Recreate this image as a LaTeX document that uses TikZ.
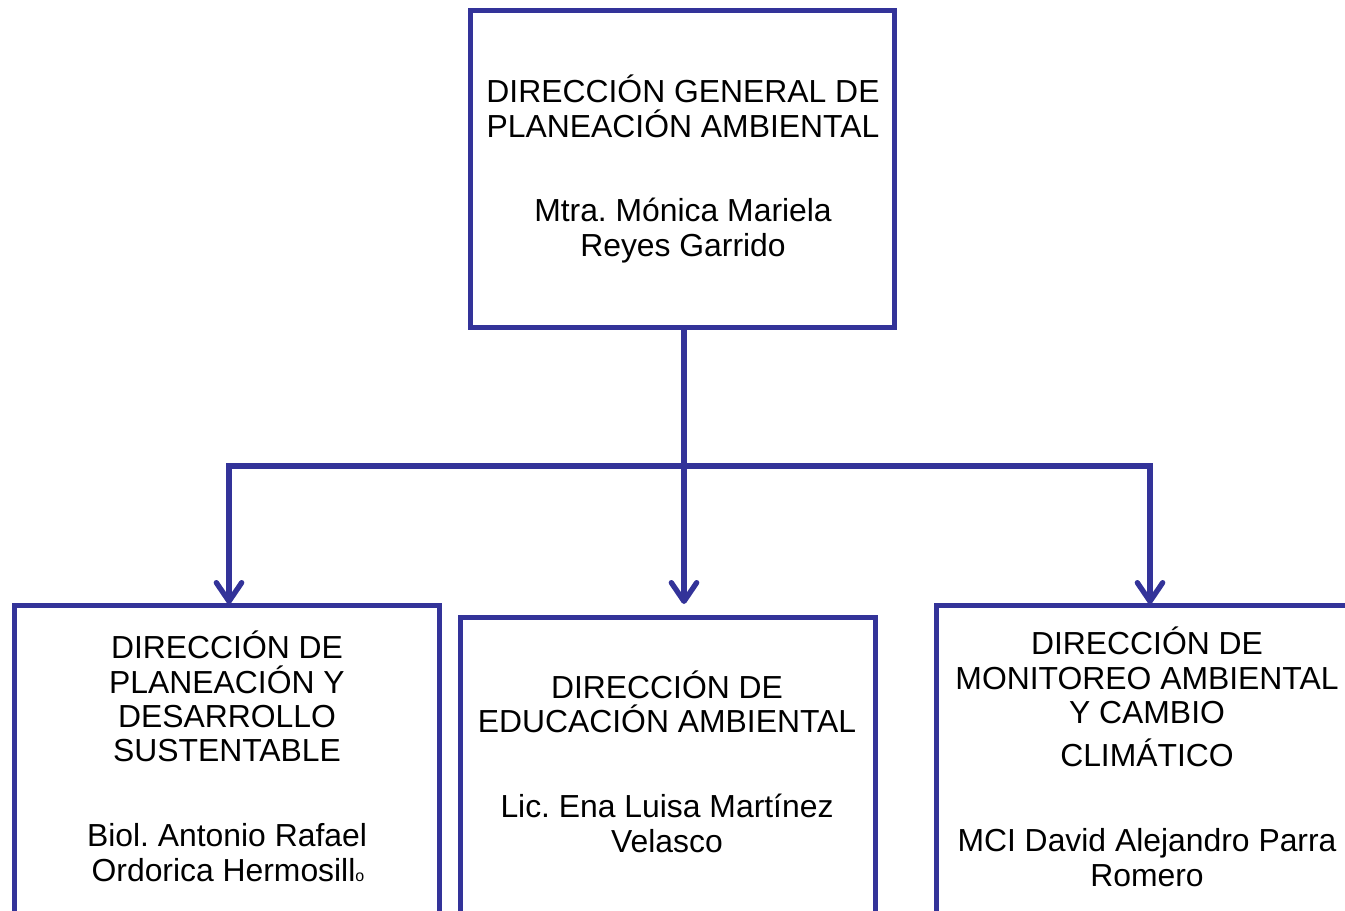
\documentclass[tikz,border=0pt]{standalone}
\usepackage{fontspec}
\setmainfont{Liberation Sans}
\usetikzlibrary{arrows.meta}
\definecolor{dblue}{RGB}{51,51,153}
\frenchspacing
\begin{document}
\begin{tikzpicture}[x=0.75pt,y=-0.75pt,
  box/.style={draw=dblue,line width=3.75pt,inner sep=0pt,fill=none},
  lbl/.style={anchor=base,inner sep=0pt,font=\fontsize{23.9pt}{26pt}\selectfont},
  conn/.style={draw=dblue,line width=4pt},
  arr/.style={conn,-{Straight Barb[length=14pt,width=19pt,round]}}]
\useasboundingbox (0,0) rectangle (1345,910);
\clip (0,0) rectangle (1345,910);
% boxes
\node[box,minimum width={424*0.75pt},minimum height={317*0.75pt}] (top) at (682,168.5) {};
\node[box,minimum width={424.5*0.75pt},minimum height={395*0.75pt}] (left) at (226.75,802.5) {};
\node[box,minimum width={415*0.75pt},minimum height={383*0.75pt}] (mid) at (667.5,808.5) {};
\node[box,minimum width={464*0.75pt},minimum height={395*0.75pt}] (right) at (1168,802.5) {};
% texts
\node[lbl] (t1) at (683,102.5) {DIRECCIÓN GENERAL DE};
\node[lbl] (t2) at (683,137.5) {PLANEACIÓN AMBIENTAL};
\node[lbl] (t3) at (683,221.5) {Mtra. Mónica Mariela};
\node[lbl] (t4) at (683,256.5) {Reyes Garrido};
\node[lbl] (l1) at (227,658.5) {DIRECCIÓN DE};
\node[lbl] (l2) at (227,693.5) {PLANEACIÓN Y};
\node[lbl] (l3) at (227,727.5) {DESARROLLO};
\node[lbl] (l4) at (227,761.5) {SUSTENTABLE};
\node[lbl] (l5) at (227,846.5) {Biol. Antonio Rafael};
\node[lbl] (l6) at (228,881.5) {Ordorica Hermosill{\fontsize{12pt}{13pt}\selectfont o}};
\node[lbl] (m1) at (667,698.5) {DIRECCIÓN DE};
\node[lbl] (m2) at (667,732.5) {EDUCACIÓN AMBIENTAL};
\node[lbl] (m3) at (667,817.5) {Lic. Ena Luisa Martínez};
\node[lbl] (m4) at (667,852.5) {Velasco};
\node[lbl] (r1) at (1147,654.5) {DIRECCIÓN DE};
\node[lbl] (r2) at (1147,689.5) {MONITOREO AMBIENTAL};
\node[lbl] (r3) at (1147,723.5) {Y CAMBIO};
\node[lbl] (r4) at (1147,766.5) {CLIMÁTICO};
\node[lbl] (r5) at (1147,851.5) {MCI David Alejandro Parra};
\node[lbl] (r6) at (1147,886.5) {Romero};
% connectors
\coordinate (j) at (684,466);
\coordinate (la) at (229,604);
\coordinate (ma) at (684,604);
\coordinate (ra) at (1150,604);
\draw[conn] (top.south -| j) -- (j);
\draw[arr] (j) -| (la);
\draw[arr] (j) -- (ma);
\draw[arr] (j) -| (ra);
\end{tikzpicture}
\end{document}
